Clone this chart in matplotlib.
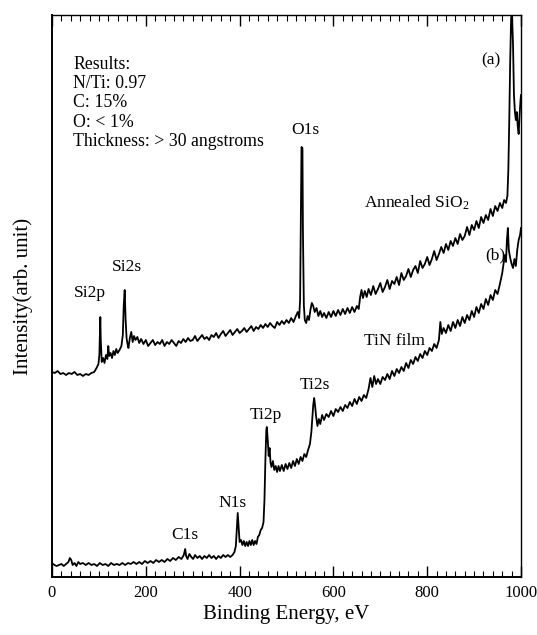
import numpy as np
import matplotlib
matplotlib.use('Agg')
import matplotlib.pyplot as plt
from matplotlib.ticker import MultipleLocator

# XPS survey spectra, binding energy (eV) and intensity (arb. unit)
energy_a = [0, 6, 12, 18, 24, 30, 36, 42, 48, 54, 60, 66, 72, 78, 84, 90, 95, 99, 101, 103,
            104, 106, 109, 112, 115, 118, 120, 122, 125, 128, 131, 134, 137, 140, 144, 148, 151, 153, 155, 157,
            159, 161, 163, 166, 169, 172, 175, 178, 182, 186, 190, 195, 200, 205, 210, 215, 220, 225, 230, 235,
            240, 245, 250, 255, 260, 265, 270, 275, 280, 285, 290, 295, 300, 305, 310, 315, 320, 325, 330, 335,
            340, 345, 350, 355, 360, 365, 370, 375, 380, 385, 390, 395, 400, 405, 410, 415, 420, 425, 430, 435,
            440, 445, 450, 455, 460, 465, 470, 475, 480, 485, 490, 495, 500, 505, 510, 515, 520, 524, 527, 529,
            531, 532, 534, 535, 537, 539, 542, 545, 548, 551, 554, 557, 560, 564, 568, 572, 576, 580, 585, 590,
            595, 600, 605, 610, 615, 620, 625, 630, 635, 640, 645, 650, 654, 657, 660, 663, 667, 671, 675, 680,
            685, 690, 695, 700, 705, 710, 715, 720, 725, 730, 735, 740, 745, 750, 755, 760, 765, 770, 775, 780,
            785, 790, 795, 800, 805, 810, 815, 820, 825, 830, 835, 840, 845, 850, 855, 860, 865, 870, 875, 880,
            885, 890, 895, 900, 905, 910, 915, 920, 925, 930, 935, 940, 945, 950, 955, 960, 964, 968, 971, 973,
            975, 977, 979, 981, 983, 985, 987, 989, 991, 993, 995, 997, 999, 1000]
intensity_a = [205, 204, 206, 203, 204, 202, 204, 203, 205, 202, 203, 201, 203, 202, 204, 205, 209, 213, 222, 260,
               237, 215, 219, 214, 222, 218, 231, 221, 224, 219, 226, 222, 228, 224, 227, 231, 242, 272, 287, 257,
               239, 233, 229, 239, 245, 235, 241, 237, 240, 234, 238, 233, 237, 231, 234, 237, 232, 235, 233, 237,
               231, 235, 233, 237, 234, 231, 236, 234, 238, 235, 239, 236, 237, 241, 236, 239, 242, 238, 240, 237,
               242, 240, 244, 239, 243, 246, 241, 244, 247, 242, 245, 248, 244, 246, 249, 245, 248, 251, 246, 250,
               248, 252, 249, 253, 250, 254, 251, 249, 255, 252, 256, 253, 257, 254, 259, 255, 261, 265, 259, 277,
               377, 430, 429, 347, 272, 257, 254, 261, 257, 267, 274, 271, 265, 269, 261, 266, 260, 264, 259, 265,
               260, 266, 261, 267, 262, 268, 263, 269, 264, 270, 265, 271, 268, 280, 287, 279, 286, 280, 288, 282,
               291, 283, 288, 294, 285, 290, 297, 288, 296, 293, 300, 292, 304, 297, 301, 308, 300, 307, 311, 304,
               316, 309, 313, 320, 312, 318, 326, 317, 323, 330, 324, 333, 327, 336, 331, 339, 333, 343, 337, 341,
               350, 342, 352, 347, 356, 349, 360, 354, 362, 357, 368, 361, 371, 366, 374, 369, 377, 374, 381, 407,
               457, 517, 560, 561, 532, 482, 465, 457, 465, 451, 443, 462, 477, 482]

energy_b = [0, 5, 10, 15, 20, 25, 30, 35, 38, 41, 44, 48, 52, 56, 60, 66, 72, 78, 84, 90,
            96, 102, 108, 114, 120, 126, 132, 138, 144, 150, 156, 162, 168, 174, 180, 186, 192, 198, 204, 210,
            216, 222, 228, 234, 240, 246, 252, 258, 264, 270, 276, 281, 284, 286, 289, 293, 297, 301, 305, 310,
            315, 320, 325, 330, 335, 340, 345, 350, 355, 360, 365, 370, 375, 380, 385, 389, 392, 394, 396, 398,
            400, 403, 406, 409, 412, 415, 418, 421, 424, 427, 430, 433, 436, 439, 442, 445, 448, 451, 453, 455,
            457, 458, 460, 462, 464, 466, 468, 471, 474, 477, 480, 483, 486, 490, 494, 498, 502, 506, 510, 514,
            518, 522, 526, 530, 534, 538, 542, 546, 550, 553, 555, 557, 559, 561, 563, 566, 569, 572, 576, 580,
            585, 590, 595, 600, 605, 610, 615, 620, 625, 630, 635, 640, 645, 650, 655, 660, 665, 670, 675, 679,
            683, 687, 691, 695, 700, 705, 710, 715, 720, 725, 730, 735, 740, 745, 750, 755, 760, 765, 770, 775,
            780, 785, 790, 795, 800, 805, 810, 815, 820, 825, 828, 831, 835, 840, 845, 850, 855, 860, 865, 870,
            875, 880, 885, 890, 895, 900, 905, 910, 915, 920, 925, 930, 935, 940, 945, 950, 955, 960, 963, 966,
            968, 970, 972, 974, 977, 980, 983, 986, 989, 992, 995, 998, 1000]
intensity_b = [14, 12, 11, 12, 13, 11, 13, 15, 19, 17, 12, 14, 11, 15, 13, 14, 12, 14, 12, 13,
               11, 14, 12, 13, 11, 14, 12, 13, 12, 14, 12, 14, 13, 15, 13, 15, 13, 16, 14, 16,
               14, 17, 15, 17, 15, 18, 16, 19, 17, 20, 18, 22, 28, 21, 18, 23, 20, 18, 22, 19,
               21, 18, 21, 19, 22, 19, 21, 18, 21, 19, 22, 20, 22, 20, 22, 25, 31, 47, 64, 49,
               35, 37, 32, 36, 31, 35, 31, 36, 32, 37, 32, 36, 33, 40, 42, 47, 49, 55, 77, 117,
               147, 150, 137, 121, 129, 114, 110, 116, 107, 111, 105, 111, 106, 112, 106, 113, 108, 114, 109, 116,
               111, 118, 113, 120, 116, 123, 120, 127, 133, 145, 159, 172, 179, 171, 161, 151, 158, 153, 162, 157,
               163, 160, 166, 161, 168, 165, 170, 166, 172, 169, 175, 171, 178, 173, 180, 176, 182, 179, 188, 199,
               190, 201, 193, 198, 193, 200, 197, 203, 198, 206, 201, 208, 204, 210, 206, 214, 209, 217, 213, 220,
               216, 223, 219, 226, 222, 229, 226, 233, 229, 237, 255, 243, 249, 244, 252, 246, 255, 249, 257, 251,
               260, 254, 262, 257, 266, 260, 270, 264, 273, 268, 278, 272, 282, 277, 287, 283, 293, 304, 314, 322,
               315, 337, 349, 327, 319, 313, 309, 318, 311, 327, 337, 342, 349]

result_lines = ['Results:', 'N/Ti: 0.97', 'C: 15%', 'O: < 1%', 'Thickness: > 30 angstroms']

# peak labels: text, energy, intensity
peak_labels = [('Si2p', 81, 284), ('Si2s', 160, 310), ('O1s', 541, 447),
               ('C1s', 284, 42), ('N1s', 384, 74), ('Ti2p', 456, 162), ('Ti2s', 561, 192),
               ('Annealed SiO$_2$', 778, 374), ('TiN film', 731, 236),
               ('(a)', 936, 517), ('(b)', 945, 322)]

plt.rcParams['font.family'] = ['Liberation Serif', 'DejaVu Serif']
plt.rcParams['mathtext.fontset'] = 'custom'
plt.rcParams['mathtext.rm'] = 'Liberation Serif'
plt.rcParams['mathtext.it'] = 'Liberation Serif:italic'

fig = plt.figure(figsize=(5.37, 6.35), dpi=100)
ax = fig.add_axes([52/537, 58/635, 469/537, 562/635])

ax.plot(energy_a, intensity_a, color='black', lw=1.3)
ax.plot(energy_b, intensity_b, color='black', lw=1.3)

ax.set_xlim(0, 1000)
ax.set_ylim(0, 562)

ax.xaxis.set_major_locator(MultipleLocator(200))
ax.xaxis.set_minor_locator(MultipleLocator(20))
ax.tick_params(axis='x', which='both', direction='in', top=True, labelsize=12, pad=6)
ax.tick_params(axis='x', which='major', length=8, width=1.0)
ax.tick_params(axis='x', which='minor', length=4.5, width=0.8)
ax.set_yticks([])
for side in ['left', 'bottom']:
    ax.spines[side].set_linewidth(1.4)
for side in ['right', 'top']:
    ax.spines[side].set_linewidth(1.0)

ax.set_xlabel('Binding Energy, eV', fontsize=15)
ax.set_ylabel('Intensity(arb. unit)', fontsize=15)
ax.xaxis.set_label_coords(0.5, -0.05)
ax.yaxis.set_label_coords(-0.04, 0.5)

ax.text(45, 521, '\n'.join(result_lines), fontsize=12.8, va='top', ha='left', linespacing=1.17)
for txt, xe, yi in peak_labels:
    ax.text(xe, yi, txt, fontsize=12.5, ha='center', va='center')

plt.savefig('out.png', dpi=100)
